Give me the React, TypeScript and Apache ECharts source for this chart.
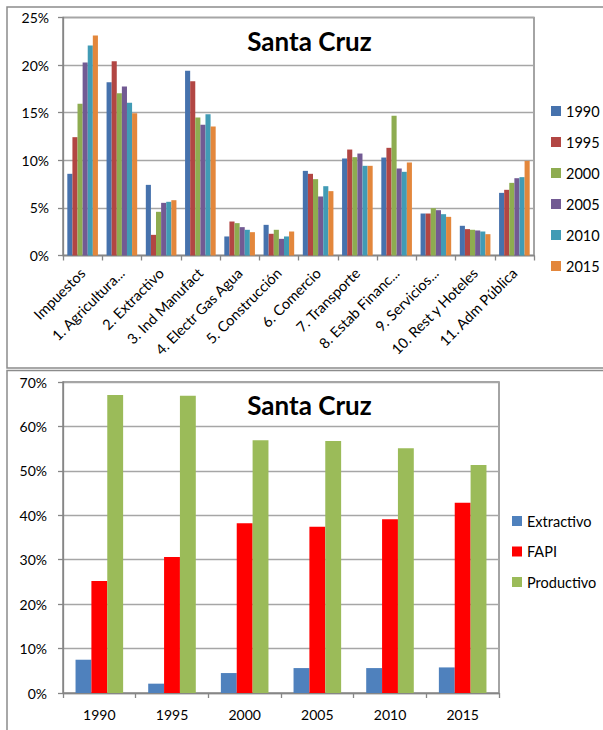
import React, { useEffect, useRef } from "react";
import * as echarts from "echarts";

// ---- Top chart data ----
const categories = [
  "Impuestos",
  "1. Agricultura...",
  "2. Extractivo",
  "3. Ind Manufact",
  "4. Electr Gas Agua",
  "5. Construcción",
  "6. Comercio",
  "7. Transporte",
  "8. Estab Financ...",
  "9. Servicios...",
  "10. Rest y Hoteles",
  "11. Adm Pública",
];
const yearNames = ["1990", "1995", "2000", "2005", "2010", "2015"];
const s1990 = [8.58, 18.2, 7.42, 19.4, 2.0, 3.22, 8.89, 10.19, 10.29, 4.41, 3.12, 6.58];
const s1995 = [12.43, 20.4, 2.17, 18.3, 3.57, 2.28, 8.58, 11.13, 11.31, 4.41, 2.77, 6.9];
const s2000 = [15.93, 17.05, 4.59, 14.5, 3.4, 2.7, 8.02, 10.33, 14.67, 4.97, 2.7, 7.63];
const s2005 = [20.27, 17.75, 5.53, 13.73, 2.98, 1.75, 6.2, 10.71, 9.14, 4.76, 2.63, 8.12];
const s2010 = [22.06, 16.04, 5.64, 14.85, 2.7, 2.0, 7.28, 9.42, 8.79, 4.34, 2.52, 8.23];
const s2015 = [23.1, 14.95, 5.81, 13.55, 2.45, 2.52, 6.76, 9.42, 9.77, 4.06, 2.24, 9.94];
const topSeries = [s1990, s1995, s2000, s2005, s2010, s2015];

// ---- Bottom chart data ----
const years = ["1990", "1995", "2000", "2005", "2010", "2015"];
const groupNames = ["Extractivo", "FAPI", "Productivo"];
const extractivo = [7.49, 2.1, 4.49, 5.61, 5.61, 5.76];
const fapi = [25.2, 30.6, 38.2, 37.4, 39.1, 42.8];
const productivo = [67.07, 66.9, 56.9, 56.7, 55.1, 51.3];
const bottomSeries = [extractivo, fapi, productivo];

const titleText = "Santa Cruz";

const topColors = ["#4672AD", "#B24643", "#8EAC50", "#725A93", "#419BB5", "#E3873C"];
const bottomColors = ["#4F81BD", "#FF0000", "#9BBB59"];

const FONT = "Lato, 'Open Sans', sans-serif";
const AXIS_GRAY = "#868686";
const GRID_GRAY = "#a6a6a6";

export default function App() {
  const ref = useRef<HTMLDivElement>(null);

  useEffect(() => {
    if (!ref.current) return;
    const chart = echarts.init(ref.current, undefined, { renderer: "svg" });

    const axisCommon = {
      axisLine: { show: true, lineStyle: { color: AXIS_GRAY, width: 1.3 } },
      axisTick: { show: true, length: 5, lineStyle: { color: AXIS_GRAY, width: 1.3 } },
    };

    const option: any = {
      animation: false,
      backgroundColor: "#ffffff",
      textStyle: { fontFamily: FONT },
      graphic: [
        {
          type: "rect",
          shape: { x: 7, y: 7, width: 640, height: 361 },
          style: { fill: "none", stroke: "#8c8c8c", lineWidth: 1.5 },
          silent: true,
          z: -10,
        },
        {
          type: "rect",
          shape: { x: 7, y: 370.5, width: 640, height: 400 },
          style: { fill: "none", stroke: "#8c8c8c", lineWidth: 1.5 },
          silent: true,
          z: -10,
        },
        {
          type: "text",
          x: 309.5,
          y: 41,
          style: {
            text: titleText,
            fontFamily: FONT,
            fontWeight: "bold",
            fontSize: 26,
            fill: "#000",
            textAlign: "center",
            textVerticalAlign: "middle",
          },
          z: 10,
        },
        {
          type: "text",
          x: 309.5,
          y: 405,
          style: {
            text: titleText,
            fontFamily: FONT,
            fontWeight: "bold",
            fontSize: 26,
            fill: "#000",
            textAlign: "center",
            textVerticalAlign: "middle",
          },
          z: 10,
        },
      ],
      grid: [
        {
          left: 63,
          top: 17.5,
          width: 471,
          height: 238,
          show: true,
          borderColor: AXIS_GRAY,
          borderWidth: 1.5,
          containLabel: false,
        },
        {
          left: 63,
          top: 382,
          width: 436,
          height: 311,
          show: true,
          borderColor: AXIS_GRAY,
          borderWidth: 1.5,
          containLabel: false,
        },
      ],
      legend: [
        {
          orient: "vertical",
          left: 546,
          top: 98,
          itemWidth: 10,
          itemHeight: 10,
          itemGap: 15,
          icon: "rect",
          data: yearNames,
          textStyle: { fontFamily: FONT, fontSize: 14.5, color: "#000", lineHeight: 16 },
        },
        {
          orient: "vertical",
          left: 507,
          top: 508,
          itemWidth: 10,
          itemHeight: 10,
          itemGap: 14.5,
          icon: "rect",
          data: groupNames,
          textStyle: { fontFamily: FONT, fontSize: 14.5, color: "#000", lineHeight: 16 },
        },
      ],
      xAxis: [
        {
          type: "category",
          gridIndex: 0,
          data: categories,
          ...axisCommon,
          axisLabel: {
            interval: 0,
            rotate: 45,
            margin: 15,
            fontFamily: FONT,
            fontSize: 14.5,
            color: "#000",
          },
        },
        {
          type: "category",
          gridIndex: 1,
          data: years,
          ...axisCommon,
          axisLabel: {
            interval: 0,
            margin: 14,
            fontFamily: FONT,
            fontSize: 14,
            color: "#000",
          },
        },
      ],
      yAxis: [
        {
          type: "value",
          gridIndex: 0,
          min: 0,
          max: 25,
          interval: 5,
          ...axisCommon,
          splitLine: { show: true, lineStyle: { color: GRID_GRAY, width: 1.3 } },
          axisLabel: {
            formatter: "{value}%",
            margin: 14,
            fontFamily: FONT,
            fontSize: 14,
            color: "#000",
          },
        },
        {
          type: "value",
          gridIndex: 1,
          min: 0,
          max: 70,
          interval: 10,
          ...axisCommon,
          splitLine: { show: true, lineStyle: { color: GRID_GRAY, width: 1.3 } },
          axisLabel: {
            formatter: "{value}%",
            margin: 16,
            fontFamily: FONT,
            fontSize: 14,
            color: "#000",
          },
        },
      ],
      series: [
        ...topSeries.map((d, i) => ({
          type: "bar",
          name: yearNames[i],
          xAxisIndex: 0,
          yAxisIndex: 0,
          data: d,
          barGap: "0%",
          barCategoryGap: "22%",
          itemStyle: { color: topColors[i] },
        })),
        ...bottomSeries.map((d, i) => ({
          type: "bar",
          name: groupNames[i],
          xAxisIndex: 1,
          yAxisIndex: 1,
          data: d,
          barGap: "0%",
          barCategoryGap: "34.5%",
          itemStyle: { color: bottomColors[i] },
        })),
      ],
    };

    chart.setOption(option);
    return () => chart.dispose();
  }, []);

  return (
    <div
      ref={ref}
      style={{ position: "absolute", left: 0, top: 0, width: 603, height: 730, background: "#fff" }}
    />
  );
}
